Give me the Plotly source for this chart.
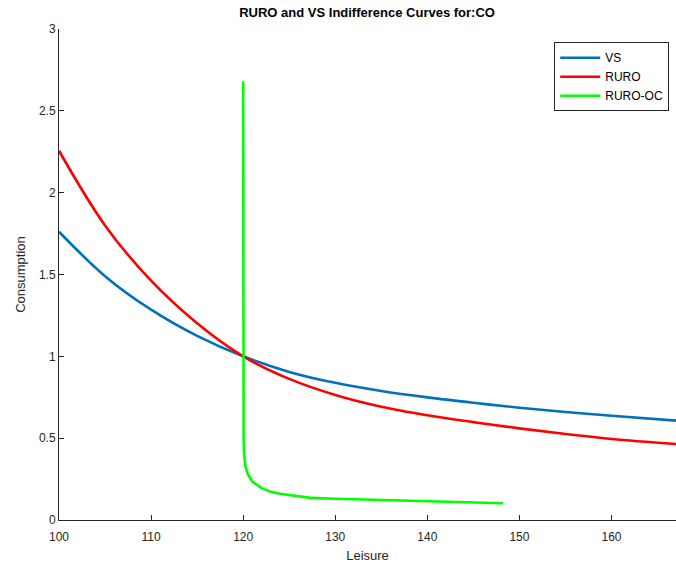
import plotly.graph_objects as go

# Data
vs_x = [100, 105, 110, 115, 120, 125, 130, 135, 140, 145, 150, 155, 160, 167]
vs_y = [1.761, 1.49, 1.285, 1.125, 1.0, 0.905, 0.838, 0.788, 0.749, 0.716, 0.686, 0.660, 0.637, 0.607]

ruro_x = [100, 105, 110, 115, 120, 125, 130, 135, 140, 145, 150, 155, 160, 167]
ruro_y = [2.256, 1.80, 1.462, 1.202, 1.0, 0.862, 0.764, 0.692, 0.640, 0.598, 0.560, 0.525, 0.495, 0.464]

oc_x = [120.0, 120.0, 120.02, 120.05, 120.1, 120.25, 120.5, 121.0, 122.0, 123.0, 124.0, 125.5, 127.3, 130.0, 135.0, 140.0, 145.0, 148.2]
oc_y = [2.68, 1.5, 0.8, 0.5, 0.4, 0.33, 0.28, 0.235, 0.195, 0.172, 0.160, 0.148, 0.135, 0.130, 0.122, 0.115, 0.108, 0.102]

x_ticks = [100, 110, 120, 130, 140, 150, 160]
y_ticks = [0, 0.5, 1, 1.5, 2, 2.5, 3]
y_tick_labels = ["0", "0.5", "1", "1.5", "2", "2.5", "3"]

FONT = "Liberation Sans, Arial, sans-serif"
AX = "#262626"

fig = go.Figure()
fig.add_trace(go.Scatter(x=vs_x, y=vs_y, mode="lines", name="VS",
                         line=dict(color="#0072BD", width=2.6, shape="spline", smoothing=1.0)))
fig.add_trace(go.Scatter(x=ruro_x, y=ruro_y, mode="lines", name="RURO",
                         line=dict(color="#FF0000", width=2.6, shape="spline", smoothing=1.0)))
fig.add_trace(go.Scatter(x=oc_x, y=oc_y, mode="lines", name="RURO-OC",
                         line=dict(color="#00FF00", width=2.6)))

fig.update_layout(
    width=676, height=563,
    margin=dict(l=59, r=0, t=29, b=43),
    paper_bgcolor="white", plot_bgcolor="white",
    font=dict(family=FONT, size=12, color=AX),
    title=dict(text="<b>RURO and VS Indifference Curves for:CO</b>",
               font=dict(family=FONT, size=13, color="#000000"),
               x=0.543, xanchor="center", y=0.977, yanchor="middle"),
    showlegend=True,
    legend=dict(x=0.989, xanchor="right", y=0.973, yanchor="top",
                bgcolor="white", bordercolor=AX, borderwidth=1,
                font=dict(family=FONT, size=12, color="#000000"),
                tracegroupgap=0, itemwidth=40),
    xaxis=dict(range=[100, 167], tickvals=x_ticks, ticks="inside", ticklen=5,
               tickcolor=AX, showline=True, linecolor=AX, linewidth=1,
               showgrid=False, zeroline=False, ticklabelstandoff=6,
               title=dict(text="Leisure", font=dict(size=13, color=AX), standoff=8),
               tickfont=dict(size=12, color=AX)),
    yaxis=dict(range=[0, 3], tickvals=y_ticks, ticktext=y_tick_labels, ticks="inside", ticklen=5,
               tickcolor=AX, showline=True, linecolor=AX, linewidth=1,
               showgrid=False, zeroline=False,
               title=dict(text="Consumption", font=dict(size=13, color=AX), standoff=10),
               tickfont=dict(size=12, color=AX)),
)

fig.write_html("out.html")
